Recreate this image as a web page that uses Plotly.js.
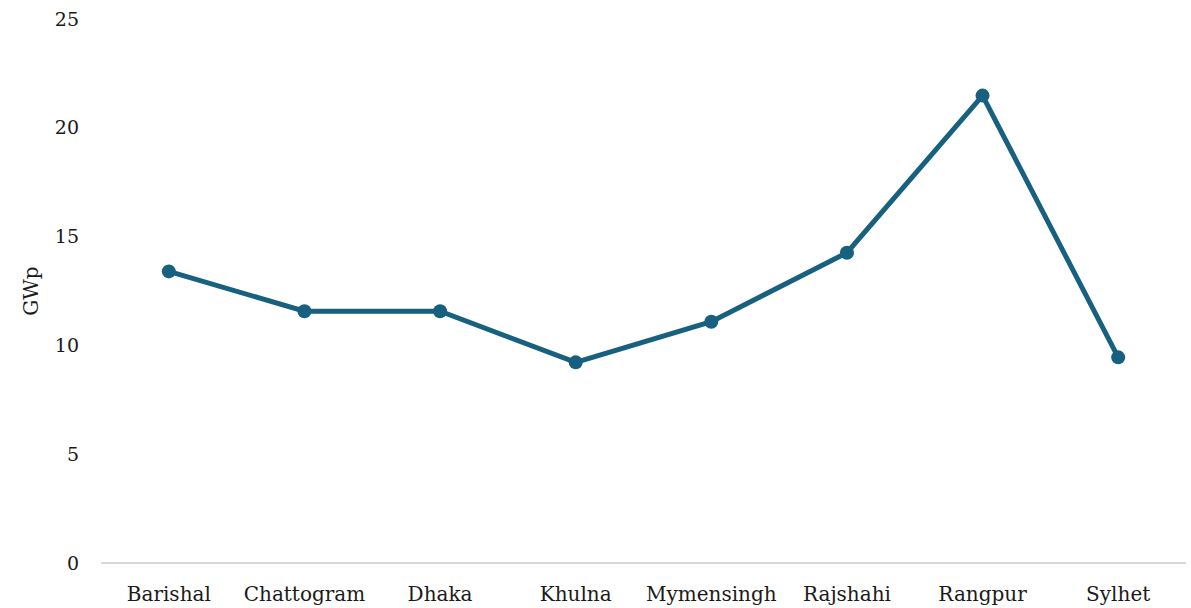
<!DOCTYPE html>
<html>
<head>
<meta charset="utf-8">
<script src="https://cdn.plot.ly/plotly-3.0.1.min.js"></script>
<style>
  html, body { margin: 0; padding: 0; background: #ffffff; }
  #chart { width: 1191px; height: 608px; }
</style>
</head>
<body>
<div id="chart"></div>
<script>
// Solar potential by division (GWp)
const divisions = ["Barishal", "Chattogram", "Dhaka", "Khulna", "Mymensingh", "Rajshahi", "Rangpur", "Sylhet"];
const capacityGWp = [13.4, 11.57, 11.57, 9.22, 11.09, 14.26, 21.48, 9.45];
const yTicks = [0, 5, 10, 15, 20, 25];

const lineColor = "#17607f";
const textColor = "#1a1a1a";
const fontFamily = "'DejaVu Serif', 'Liberation Serif', serif";

const trace = {
  type: "scatter",
  mode: "lines+markers",
  x: divisions,
  y: capacityGWp,
  line: { color: lineColor, width: 5 },
  marker: { color: lineColor, size: 14 },
  hoverinfo: "x+y"
};

const layout = {
  width: 1191,
  height: 608,
  margin: { l: 101, r: 5, t: 19, b: 45 },
  paper_bgcolor: "#ffffff",
  plot_bgcolor: "#ffffff",
  showlegend: false,
  font: { family: fontFamily, size: 19, color: textColor },
  xaxis: {
    type: "category",
    range: [-0.5, divisions.length - 0.5],
    showgrid: false,
    zeroline: false,
    showline: false,
    ticks: "",
    ticklabelstandoff: 17,
    tickfont: { family: fontFamily, size: 20, color: textColor }
  },
  yaxis: {
    range: [0, 25],
    tickvals: yTicks,
    ticktext: yTicks.map(String),
    showgrid: false,
    zeroline: true,
    zerolinecolor: "#d9d9d9",
    zerolinewidth: 2,
    showline: false,
    ticks: "",
    ticklabelstandoff: 21,
    tickfont: { family: fontFamily, size: 19, color: textColor },
    title: { text: "GWp", font: { family: fontFamily, size: 20, color: textColor }, standoff: 10 }
  }
};

Plotly.newPlot("chart", [trace], layout, { displayModeBar: false, staticPlot: true });
</script>
</body>
</html>
